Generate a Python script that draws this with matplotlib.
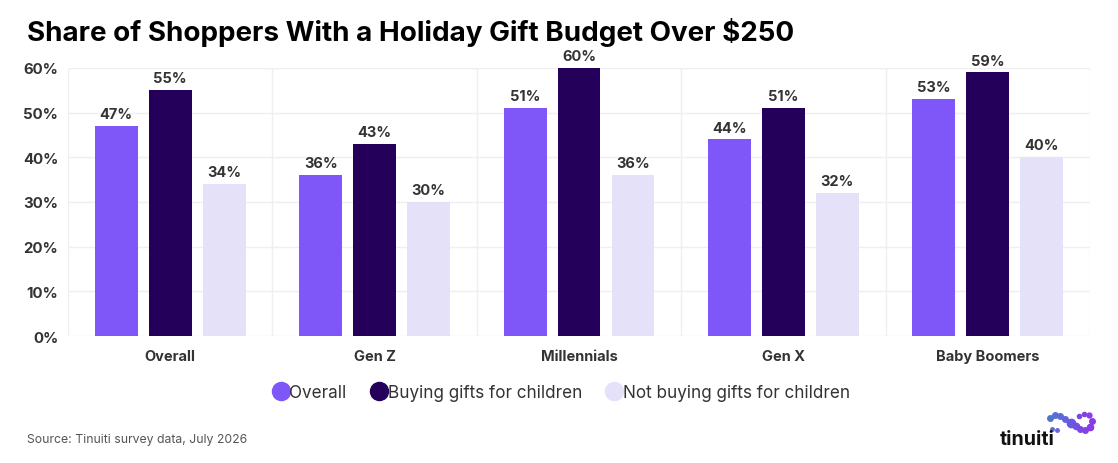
from matplotlib import pyplot as plt
from matplotlib.lines import Line2D
import numpy as np

plt.rcParams['font.family'] = ['Inter', 'DejaVu Sans']

groups = ['Overall', 'Gen Z', 'Millennials', 'Gen X', 'Baby Boomers']
series_names = ['Overall', 'Buying gifts for children', 'Not buying gifts for children']
overall = [47, 36, 51, 44, 53]
buying = [55, 43, 60, 51, 59]
not_buying = [34, 30, 36, 32, 40]
yticks = [0, 10, 20, 30, 40, 50, 60]

colors = ['#7F56F7', '#24005A', '#E5E1F9']
txt = '#333333'

fig = plt.figure(figsize=(11.18, 4.64), dpi=100)
ax = fig.add_axes([0.0608, 0.2737, 0.9142, 0.5776])

x = np.arange(len(groups))
width = 0.21
step = 0.264
for i, vals in enumerate([overall, buying, not_buying]):
    pos = x + (i - 1) * step
    ax.bar(pos, vals, width, color=colors[i], zorder=3)
    for p, v in zip(pos, vals):
        ax.text(p, v + 1.1, f'{v}%', ha='center', va='bottom', fontsize=10.5,
                fontweight='bold', color=txt)

ax.set_xlim(-0.5, len(groups) - 0.5)
ax.set_ylim(0, 60)
ax.set_yticks(yticks)
ax.set_yticklabels([f'{t}%' for t in yticks], fontsize=10.8, fontweight='bold', color=txt)
ax.set_xticks(x)
ax.set_xticklabels(groups, fontsize=10.5, fontweight='bold', color=txt)
ax.tick_params(length=0, axis='y', pad=7)
ax.tick_params(length=0, axis='x', pad=9)
for s in ax.spines.values():
    s.set_visible(False)
for t in yticks:
    ax.axhline(t, color='#EFEFEF', lw=1, zorder=1)
for b in np.arange(-0.5, len(groups), 1):
    ax.axvline(b, color='#EFEFEF', lw=1, zorder=1)

fig.text(0.024, 0.93, 'Share of Shoppers With a Holiday Gift Budget Over $250',
         fontsize=20, fontweight='bold', color='#000000', va='center')

handles = [Line2D([], [], marker='o', ls='', markersize=13, color=c) for c in colors]
fig.legend(handles, series_names, loc='center', bbox_to_anchor=(0.502, 0.153), ncol=3,
           frameon=False, fontsize=12.3, handletextpad=0.0, columnspacing=1.4,
           labelcolor=txt, handlelength=1.0)

fig.text(0.024, 0.052, 'Source: Tinuiti survey data, July 2026', fontsize=8.8, color='#555555',
         va='center')

# logo
fig.text(0.894, 0.052, 'tinuiti', fontsize=14, fontweight='bold', color='#111111', va='center')
dot_px = [1050, 1055, 1060, 1065, 1071, 1076, 1080, 1085, 1090, 1092, 1089, 1084, 1079, 1052, 1057]
dot_py = [419, 416, 417, 420, 424, 427, 430, 431, 428, 422, 416, 415, 417, 430, 431]
dot_sz = [4, 4, 4, 4, 6, 4.5, 4, 4, 4.5, 4, 3.5, 3, 3, 2.5, 2.5]
dot_c = ['#4F74CF', '#5670D3', '#5D69D8', '#6362DC', '#6B58E0', '#7350E2', '#7A49E4',
         '#8242E6', '#8A3BE8', '#8C3AE8', '#8A3DE8', '#8442E6', '#7E47E4', '#5A6BD6', '#6266DA']
for dx, dy, ds, dc in zip(dot_px, dot_py, dot_sz, dot_c):
    fig.add_artist(Line2D([dx / 1118], [1 - dy / 464], marker='o', markersize=ds, color=dc,
                          transform=fig.transFigure))

fig.savefig('out.png', dpi=100, facecolor='white')
